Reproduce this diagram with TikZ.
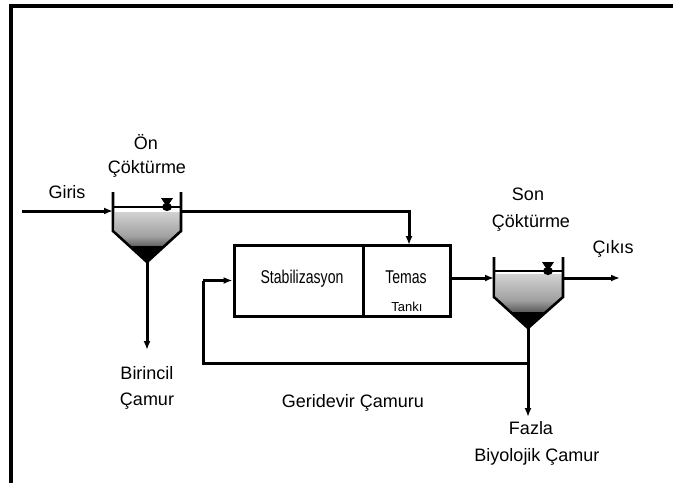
\documentclass[tikz,border=0pt]{standalone}
\usepackage{fontspec}
\setmainfont{Liberation Sans}
\newfontfamily\narrowfont[FakeStretch=0.76]{Liberation Sans}
\usetikzlibrary{arrows.meta}
\begin{document}
\begin{tikzpicture}[x=1pt,y=-1pt,
  pipe/.style={line width=3pt},
  flow/.style={line width=3pt,-{Latex[length=9pt,width=7pt]}},
  wall/.style={line width=2.6pt,line join=miter},
  unitbox/.style={draw,line width=3pt,rectangle,inner sep=0pt,minimum height=71pt},
  lbl/.style={inner sep=0pt,anchor=base,font=\fontsize{18}{20}\selectfont},
  boxlbl/.style={inner sep=0pt,anchor=base,font=\narrowfont\fontsize{18.5}{20}\selectfont},
  small/.style={inner sep=0pt,anchor=base,font=\fontsize{13}{15}\selectfont},
  sludge/.style={top color=gray!35,bottom color=black,middle color=gray!75},
  level/.style={fill=black}]
\useasboundingbox (0,0) rectangle (673,483);
\fill[white] (0,0) rectangle (673,483);

% frame on the top and left sides
\draw[line width=4pt] (10.5,483) -- (10.5,5.5) -- (673,5.5);

% ---------- primary settling tank ----------
\coordinate (t1in)   at (113,211);
\coordinate (t1out)  at (182,211);
\coordinate (t1apex) at (147,262);
\coordinate (giris)  at (22,211);
\coordinate (t1sl)   at (147,350);
\shade[sludge] (115,212) -- (180,212) -- (180,231) -- (147,261) -- (115,231) -- cycle;
\fill[black] (131,246) -- (163,246) -- (147,261) -- cycle;
\draw[wall] (113,192) -- (113,231) -- (t1apex) -- (181,231) -- (181,192);
\draw[line width=2pt] (113,207) -- (181,207);
\fill[level] (161,198) -- (173,198) -- (167,207) -- cycle;
\fill[level] (167,207) ellipse (5pt and 4pt);

% ---------- secondary settling tank ----------
\coordinate (t2in)   at (494,278);
\coordinate (t2out)  at (564,278);
\coordinate (t2apex) at (528,328);
\coordinate (cikis)  at (620,278);
\coordinate (fazla)  at (528,417);
\coordinate (rj)     at (528,363);
\coordinate (rc)     at (203,363);
\shade[sludge] (496,274) -- (562,274) -- (562,297) -- (528,327) -- (496,297) -- cycle;
\fill[black] (511,312) -- (545,312) -- (528,327) -- cycle;
\draw[wall] (494,257) -- (494,297) -- (t2apex) -- (563,297) -- (563,257);
\draw[line width=2pt] (494,271) -- (563,271);
\fill[level] (542,262) -- (554,262) -- (548,271) -- cycle;
\fill[level] (548,271) ellipse (5pt and 4pt);

% ---------- stabilization / contact tank ----------
\node[unitbox,minimum width=129pt] (stab)  at (298.5,280.5) {};
\node[unitbox,minimum width=87pt]  (temas) at (406.5,280.5) {};
\coordinate (tin) at (409,245);
\coordinate (rc2) at (203,280.5);

% ---------- flows ----------
\draw[flow] (giris) -- (t1in);
\draw[flow] (t1out) -| (tin);
\draw[flow] (t1apex) -- (t1sl);
\draw[flow] (temas.east |- t2in) -- (t2in);
\draw[flow] (t2out) -- (cikis);
\draw[flow] (t2apex) -- (fazla);
\draw[pipe] (rj) -- (rc) -- (rc2);
\draw[flow] (rc2) -- (stab.west);

% ---------- labels ----------
\node[lbl] (on)   at (146,149) {Ön};
\node[lbl] (cok1) at (147,173) {Çöktürme};
\node[lbl] (gir)  at (67,198) {Giris};
\node[lbl] (son)  at (528,200) {Son};
\node[lbl] (cok2) at (531,227) {Çöktürme};
\node[lbl] (cik)  at (613,253) {Çıkıs};
\node[boxlbl] (stabl) at (302,283.5) {Stabilizasyon};
\node[boxlbl] (temasl) at (406,283.5) {Temas};
\node[small] (tankl) at (407,311) {Tankı};
\node[lbl] (bir)  at (147,379) {Birincil};
\node[lbl] (cam1) at (147,405) {Çamur};
\node[lbl] (geri) at (353,407) {Geridevir Çamuru};
\node[lbl] (faz)  at (531,434) {Fazla};
\node[lbl] (biyo) at (537,461) {Biyolojik Çamur};
\end{tikzpicture}
\end{document}
